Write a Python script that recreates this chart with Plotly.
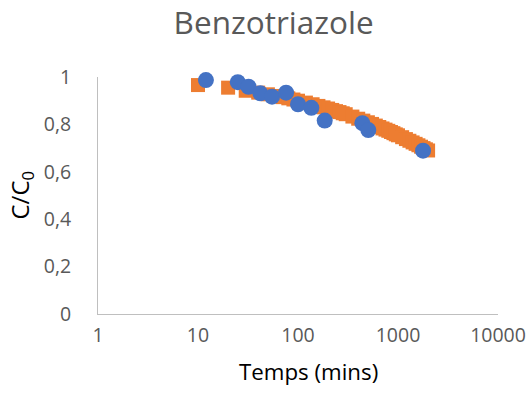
import plotly.graph_objects as go

# Model curve (orange squares)
model_time = [10, 20, 30, 40, 50, 60, 70, 80, 90, 100,
              120, 140, 160, 180, 200, 220, 240, 260, 280, 300,
              350, 400, 450, 500, 550, 600, 650, 700, 750, 800, 850, 900, 950, 1000,
              1100, 1200, 1300, 1400, 1500, 1600, 1700, 1800, 1900, 2000]
model_c = [0.966, 0.955, 0.942, 0.934, 0.927, 0.920, 0.915, 0.910, 0.905, 0.900,
           0.892, 0.885, 0.878, 0.872, 0.867, 0.861, 0.856, 0.852, 0.847, 0.843,
           0.833, 0.824, 0.816, 0.809, 0.802, 0.795, 0.789, 0.783, 0.778, 0.773, 0.768, 0.763, 0.758, 0.754,
           0.746, 0.738, 0.731, 0.724, 0.718, 0.712, 0.706, 0.700, 0.695, 0.690]

# Experimental data (blue circles)
exp_time = [12, 25, 32, 42, 55, 76, 100, 136, 185, 440, 505, 1780]
exp_c = [0.987, 0.978, 0.959, 0.931, 0.917, 0.934, 0.885, 0.870, 0.816, 0.805, 0.776, 0.689]

x_tick_vals = [1, 10, 100, 1000, 10000]
x_tick_text = ["1", "10", "100", "1000", "10000"]
y_tick_vals = [0, 0.2, 0.4, 0.6, 0.8, 1]
y_tick_text = ["0", "0,2", "0,4", "0,6", "0,8", "1"]

FONT = "Open Sans"
GRAY = "#595959"

fig = go.Figure()
fig.add_trace(go.Scatter(
    x=model_time, y=model_c, mode="markers", name="Modèle",
    marker=dict(symbol="square", size=14, color="#ED7D31", line=dict(width=0)),
    cliponaxis=False, showlegend=False,
))
fig.add_trace(go.Scatter(
    x=exp_time, y=exp_c, mode="markers", name="Expérimental",
    marker=dict(symbol="circle", size=16, color="#4472C4", line=dict(width=0)),
    cliponaxis=False, showlegend=False,
))

fig.update_layout(
    width=532, height=403,
    margin=dict(l=98, r=34, t=77, b=89, autoexpand=False),
    paper_bgcolor="white", plot_bgcolor="white",
    font=dict(family=FONT, color=GRAY),
    title=dict(text="Benzotriazole", font=dict(family=FONT, size=31.5, color=GRAY),
               xref="paper", x=0.439, xanchor="center",
               yref="container", y=0.943, yanchor="middle", automargin=False),
    xaxis=dict(type="log", range=[0, 4], tickvals=x_tick_vals, ticktext=x_tick_text,
               showgrid=False, zeroline=False, showline=True, linecolor="#BFBFBF", linewidth=1,
               ticks="", ticklabelstandoff=4, automargin=False,
               tickfont=dict(family=FONT, size=19.5, color=GRAY)),
    yaxis=dict(range=[0, 1], tickvals=y_tick_vals, ticktext=y_tick_text,
               showgrid=False, zeroline=False, showline=True, linecolor="#BFBFBF", linewidth=1,
               ticks="", ticklabelstandoff=22, automargin=False,
               tickfont=dict(family=FONT, size=19.5, color=GRAY)),
    annotations=[
        dict(text="Temps (mins)", xref="paper", yref="paper", x=0.525, y=0,
             xanchor="center", yanchor="middle", yshift=-57, showarrow=False,
             font=dict(family=FONT, size=22.3, color="#000000")),
        dict(text="C/C<sub>0</sub>", xref="paper", yref="paper", x=0, y=0.5,
             xanchor="center", yanchor="middle", xshift=-78, textangle=-90, showarrow=False,
             font=dict(family=FONT, size=24, color="#000000")),
    ],
)

fig.write_html("out.html", config={"displayModeBar": False},
               post_script="document.body.style.margin='0';")
